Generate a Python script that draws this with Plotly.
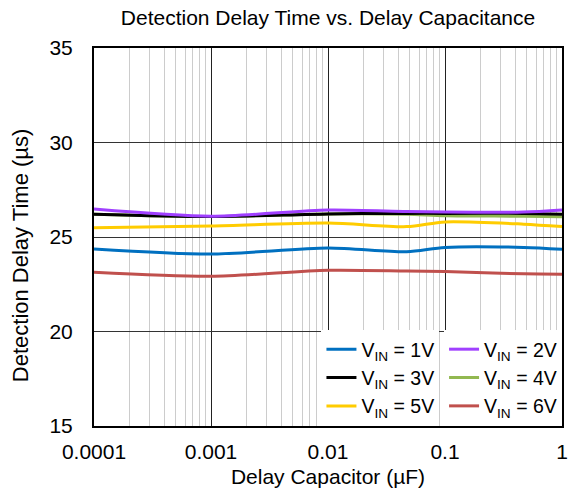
import plotly.graph_objects as go

cap_uF = [1e-4, 1e-3, 1e-2, 4.7e-2, 1e-1, 4.7e-1, 1]
v1 = [24.37, 24.10, 24.42, 24.22, 24.45, 24.45, 24.35]
v2 = [26.48, 26.10, 26.43, 26.35, 26.32, 26.32, 26.43]
v3 = [26.20, 26.08, 26.22, 26.25, 26.25, 26.25, 26.20]
v4 = [26.20, 26.08, 26.22, 26.20, 26.12, 26.10, 26.07]
v5 = [25.49, 25.58, 25.74, 25.55, 25.80, 25.68, 25.55]
v6 = [23.13, 22.92, 23.24, 23.20, 23.17, 23.05, 23.03]

major_ticks = [1e-4, 1e-3, 1e-2, 1e-1, 1]
major_labels = ["0.0001", "0.001", "0.01", "0.1", "1"]
minor_ticks = [m * d for d in [1e-4, 1e-3, 1e-2, 1e-1] for m in range(2, 10)]

series = [
    ("V<sub>IN</sub> = 1V", v1, "#0070C0", "legend"),
    ("V<sub>IN</sub> = 2V", v2, "#A040FF", "legend2"),
    ("V<sub>IN</sub> = 3V", v3, "#000000", "legend"),
    ("V<sub>IN</sub> = 4V", v4, "#92B850", "legend2"),
    ("V<sub>IN</sub> = 5V", v5, "#FFCC00", "legend"),
    ("V<sub>IN</sub> = 6V", v6, "#C0504D", "legend2"),
]
draw_order = [0, 5, 4, 3, 2, 1]

fig = go.Figure()
for i in draw_order:
    name, ys, col, lg = series[i]
    fig.add_trace(go.Scatter(x=cap_uF, y=ys, mode="lines", name=name,
                             line=dict(color=col, width=3, shape="spline", smoothing=0.8),
                             legend=lg, legendrank=i))

font = "Arial, Liberation Sans, sans-serif"
fig.update_layout(
    width=569, height=494,
    margin=dict(l=94, r=1, t=48, b=68),
    paper_bgcolor="white", plot_bgcolor="white",
    font=dict(family=font, size=21, color="black"),
    title=dict(text="Detection Delay Time vs. Delay Capacitance", x=0.5, xref="paper",
               xanchor="center", y=0.965, yanchor="middle", font=dict(size=21)),
    xaxis=dict(type="log", range=[-4, 0], tickvals=major_ticks, ticktext=major_labels,
               ticklabeloverflow="allow", ticklabelstandoff=6,
               showgrid=True, gridcolor="#222222", gridwidth=1,
               minor=dict(tickvals=minor_ticks, showgrid=True, gridcolor="#cccccc", gridwidth=1),
               showline=True, linecolor="black", linewidth=2, mirror=True,
               ticks="", title=dict(text="Delay Capacitor (µF)", standoff=7, font=dict(size=21)),
               zeroline=False),
    yaxis=dict(range=[15, 35], dtick=5, showgrid=True, gridcolor="#333333", gridwidth=1,
               showline=True, linecolor="black", linewidth=2, mirror=True,
               ticks="", ticklabelstandoff=15, zeroline=False),
    legend=dict(x=0.486, y=0.0, xanchor="left", yanchor="bottom", bgcolor="white",
                font=dict(size=19.5), traceorder="normal", itemwidth=30, tracegroupgap=0),
    legend2=dict(x=0.748, y=0.0, xanchor="left", yanchor="bottom", bgcolor="white",
                 font=dict(size=19.5), traceorder="normal", itemwidth=30, tracegroupgap=0),
    annotations=[dict(text="Detection Delay Time (µs)", textangle=-90, xref="paper", yref="paper",
                      x=-0.158, y=0.452, xanchor="center", yanchor="middle", showarrow=False,
                      font=dict(size=22))],
)
fig.write_html("out.html")
